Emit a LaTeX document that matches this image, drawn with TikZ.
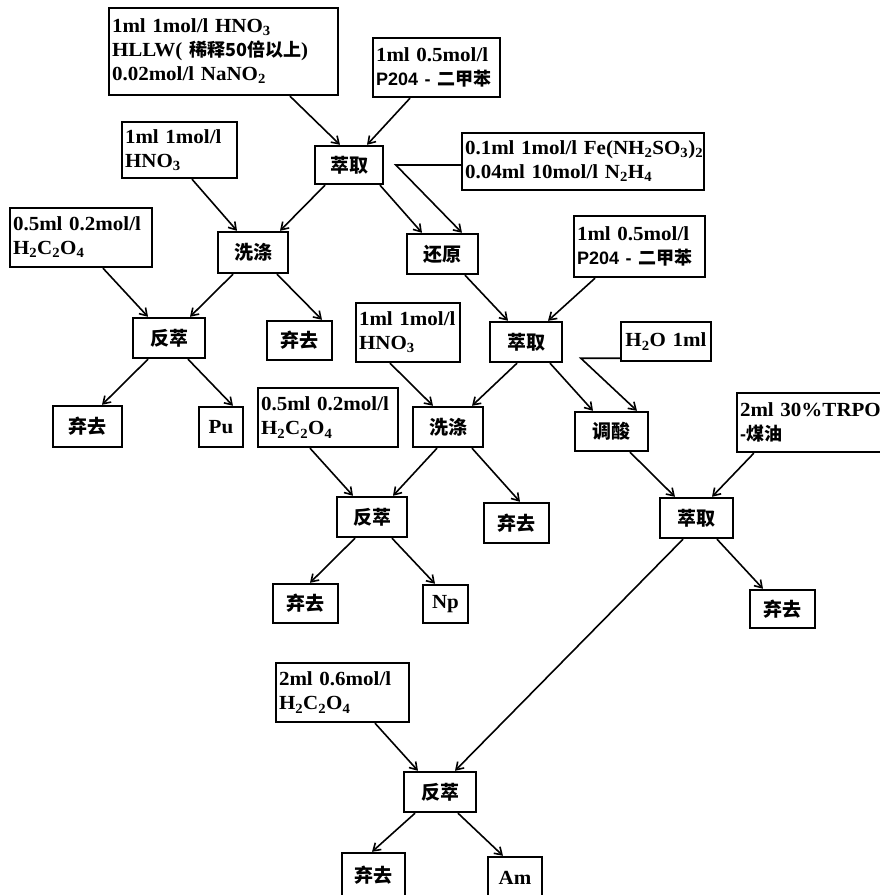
\documentclass[tikz,border=0pt]{standalone}
\usepackage{fontspec}
\setmainfont{Liberation Serif}[FakeStretch=1.05]
\newfontfamily\cjk{Noto Sans CJK SC}
\newfontfamily\sansf{Liberation Sans}[Scale=0.9]
\usetikzlibrary{arrows.meta}
\newcommand\zh[1]{{\cjk\bfseries\fontsize{18}{24}\selectfont #1}}
\newcommand\sub[1]{\textsubscript{#1}}
\tikzset{
  proc/.style={draw, line width=2.4pt, inner sep=0pt, font=\cjk\bfseries\fontsize{19}{21}\selectfont},
  elem/.style={draw, line width=2.4pt, inner sep=0pt, font=\bfseries\fontsize{20}{22}\selectfont},
  rbox/.style={draw, line width=2.4pt, inner xsep=3pt, inner ysep=2pt, align=left, font=\bfseries\fontsize{20}{24}\selectfont},
  arr/.style={line width=1.6pt, -{Straight Barb[length=7pt,width=9pt]}}
}
\newcommand{\pbx}[6]{\node[proc,minimum width={#4-#2},minimum height={#5-#3}] (#1) at ({(#2+#4)/2},{(#3+#5)/2}) {#6};}
\newcommand{\ebx}[6]{\node[elem,minimum width={#4-#2},minimum height={#5-#3}] (#1) at ({(#2+#4)/2},{(#3+#5)/2}) {#6};}
\begin{document}
\begin{tikzpicture}[x=1pt,y=-1pt]
\useasboundingbox (0,0) rectangle (879,895);
% reagent boxes
\node[rbox,text width=223pt,minimum height=87pt] (A) at (223.5,51.5) {\mbox{1ml 1mol/l HNO\sub{3}}\\\mbox{HLLW( \zh{稀释50倍以上})}\\\mbox{0.02mol/l NaNO\sub{2}}};
\node[rbox,text width=121pt,minimum height=59pt] (B) at (436.5,67.5) {\mbox{1ml 0.5mol/l}\\\mbox{{\sansf P204 - }\zh{二甲苯}}};
\node[rbox,text width=109pt,minimum height=56pt] (C) at (179.5,150) {\mbox{1ml 1mol/l}\\\mbox{HNO\sub{3}}};
\node[rbox,text width=236pt,minimum height=57pt] (D) at (583,161.5) {\mbox{0.1ml 1mol/l Fe(NH\sub{2}SO\sub{3})\sub{2}}\\\mbox{0.04ml 10mol/l N\sub{2}H\sub{4}}};
\node[rbox,text width=136pt,minimum height=59pt] (F) at (81,237.5) {\mbox{0.5ml 0.2mol/l}\\\mbox{H\sub{2}C\sub{2}O\sub{4}}};
\node[rbox,text width=125pt,minimum height=61pt] (H) at (639.5,246.5) {\mbox{1ml 0.5mol/l}\\\mbox{{\sansf P204 - }\zh{二甲苯}}};
\node[rbox,text width=98pt,minimum height=59pt] (G) at (408,332.5) {\mbox{1ml 1mol/l}\\\mbox{HNO\sub{3}}};
\node[rbox,text width=84pt,minimum height=39pt,align=center] (I) at (666,341.5) {\mbox{H\sub{2}O 1ml}};
\node[rbox,text width=134pt,minimum height=59pt] (J) at (328,417.5) {\mbox{0.5ml 0.2mol/l}\\\mbox{H\sub{2}C\sub{2}O\sub{4}}};
\node[rbox,text width=142pt,minimum height=59pt] (K) at (811,422.5) {\mbox{2ml 30\%TRPO}\\\mbox{{\sansf -}\zh{煤油}}};
\node[rbox,text width=127pt,minimum height=59pt] (L) at (342.5,692.5) {\mbox{2ml 0.6mol/l}\\\mbox{H\sub{2}C\sub{2}O\sub{4}}};
% process boxes
\pbx{E1}{315}{146}{383}{184}{萃取}
\pbx{W1}{218}{232}{288}{273}{洗涤}
\pbx{R}{407}{234}{478}{274}{还原}
\pbx{B1}{133}{318}{205}{358}{反萃}
\pbx{D1}{267}{321}{332}{360}{弃去}
\pbx{E2}{490}{322}{562}{362}{萃取}
\pbx{D0}{53}{406}{122}{447}{弃去}
\ebx{Pu}{199}{407}{243}{447}{Pu}
\pbx{W2}{413}{407}{483}{447}{洗涤}
\pbx{T}{575}{412}{648}{451}{调酸}
\pbx{B2}{337}{497}{407}{537}{反萃}
\pbx{D2}{484}{503}{549}{543}{弃去}
\pbx{E3}{660}{498}{733}{538}{萃取}
\pbx{D3}{273}{584}{338}{623}{弃去}
\ebx{Np}{423}{585}{468}{623}{Np}
\pbx{D4}{750}{590}{815}{628}{弃去}
\pbx{B3}{404}{772}{476}{812}{反萃}
\pbx{D5}{342}{853}{405}{898}{弃去}
\ebx{Am}{488}{857}{542}{898}{Am}
% connectors
\draw[arr] ([xshift=66.5pt]A.south) -- ([xshift=-9pt]E1.north);
\draw[arr] ([xshift=-26.5pt]B.south) -- ([xshift=18pt]E1.north);
\draw[arr] ([xshift=-24pt]E1.south) -- ([xshift=27pt]W1.north);
\draw[arr] ([xshift=31pt]E1.south) -- ([xshift=-20.5pt]R.north);
\draw[arr] ([yshift=-3.5pt]D.west) -- ++(-65,0) -- ([xshift=19.5pt]R.north);
\draw[arr] ([xshift=12.5pt]C.south) -- ([xshift=-16pt]W1.north);
\draw[arr] ([xshift=-20pt]W1.south) -- ([xshift=21pt]B1.north);
\draw[arr] ([xshift=24pt]W1.south) -- ([xshift=22.5pt]D1.north);
\draw[arr] ([xshift=22pt]F.south) -- ([xshift=-21pt]B1.north);
\draw[arr] ([xshift=22.5pt]R.south) -- ([xshift=-18pt]E2.north);
\draw[arr] ([xshift=-44.5pt]H.south) -- ([xshift=22pt]E2.north);
\draw[arr] ([xshift=-21pt]B1.south) -- ([xshift=14.5pt]D0.north);
\draw[arr] ([xshift=19pt]B1.south) -- ([xshift=12pt]Pu.north);
\draw[arr] ([xshift=-18pt]G.south) -- ([xshift=-15pt]W2.north);
\draw[arr] ([xshift=-9pt]E2.south) -- ([xshift=24pt]W2.north);
\draw[arr] ([xshift=24pt]E2.south) -- ([xshift=-18.5pt]T.north);
\draw[arr] ([yshift=4pt]I.south west) -- ++(-39,0) -- ([xshift=25.5pt]T.north);
\draw[arr] ([xshift=-18pt]J.south) -- ([xshift=-19pt]B2.north);
\draw[arr] ([xshift=-11pt]W2.south) -- ([xshift=21pt]B2.north);
\draw[arr] ([xshift=24pt]W2.south) -- ([xshift=3.5pt]D2.north);
\draw[arr] ([xshift=18.5pt]T.south) -- ([xshift=-21.5pt]E3.north);
\draw[arr] ([xshift=18pt]K.south west) -- ([xshift=15.5pt]E3.north);
\draw[arr] ([xshift=-17pt]B2.south) -- ([xshift=4.5pt]D3.north);
\draw[arr] ([xshift=20pt]B2.south) -- ([xshift=-10.5pt]Np.north);
\draw[arr] ([xshift=20.5pt]E3.south) -- ([xshift=-19.5pt]D4.north);
\draw[arr] ([xshift=-13.5pt]E3.south) -- ([xshift=15pt]B3.north);
\draw[arr] ([xshift=32.5pt]L.south) -- ([xshift=-22pt]B3.north);
\draw[arr] ([xshift=-25pt]B3.south) -- ([xshift=-1.5pt]D5.north);
\draw[arr] ([xshift=18pt]B3.south) -- ([xshift=-12pt]Am.north);
\end{tikzpicture}
\end{document}
